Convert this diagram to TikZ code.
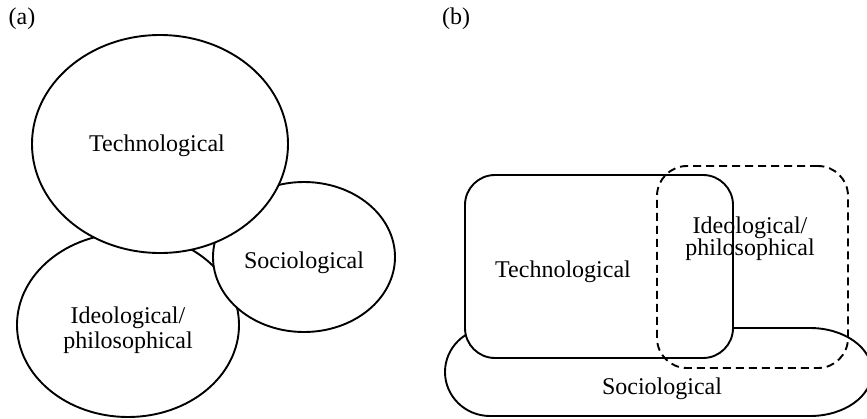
\documentclass[tikz,border=0pt]{standalone}
\usepackage{fontspec}
\setmainfont{Liberation Serif}
\usetikzlibrary{shapes.geometric}

\begin{document}
\begin{tikzpicture}[x=0.5pt, y=-0.5pt, line width=0.95pt, font=\fontsize{12}{12.5}\selectfont,
    blob/.style={draw, ellipse, fill=white, inner sep=0pt},
    box/.style={draw, rectangle, rounded corners=15pt, inner sep=0pt}]
    \useasboundingbox (0,0) rectangle (867,418);
    \clip (0,0) rectangle (867,418);

    % (a) three overlapping ellipses
    \node (LabelA) at (22,19) {(a)};
    \node (IdeoA) [blob, minimum width=111pt, minimum height=92pt] at (128,325) {};
    \node (SocioA) [blob, minimum width=91pt, minimum height=75pt] at (304,257) {};
    \node (TechA) [blob, minimum width=128pt, minimum height=109pt] at (160,144) {};
    \node (TechAText) at (157,146) {Technological};
    \node (SocioAText) at (304,263) {Sociological};
    \node (IdeoAText) [align=center] at (128,330) {Ideological/\\philosophical};

    % (b) boxes
    \node (LabelB) at (456,19) {(b)};
    \draw (490,328) -- (810,328) arc[start angle=-90, end angle=90, x radius=62, y radius=44]
        -- (490,416) arc[start angle=90, end angle=270, x radius=45, y radius=44] -- cycle;
    \node (SocioB) at (662,389) {Sociological};
    \node (TechBox) [box, fill=white, minimum width=134pt, minimum height=91.5pt] at (599,266.5) {};
    \node (TechB) at (563,272) {Technological};
    \node (IdeoBox) [box, dash pattern=on 4pt off 2.5pt, minimum width=95.5pt, minimum height=101pt] at (752.5,267) {};
    \node (IdeoB) [align=center, font=\fontsize{12}{11}\selectfont] at (750,239) {Ideological/\\philosophical};
\end{tikzpicture}
\end{document}
